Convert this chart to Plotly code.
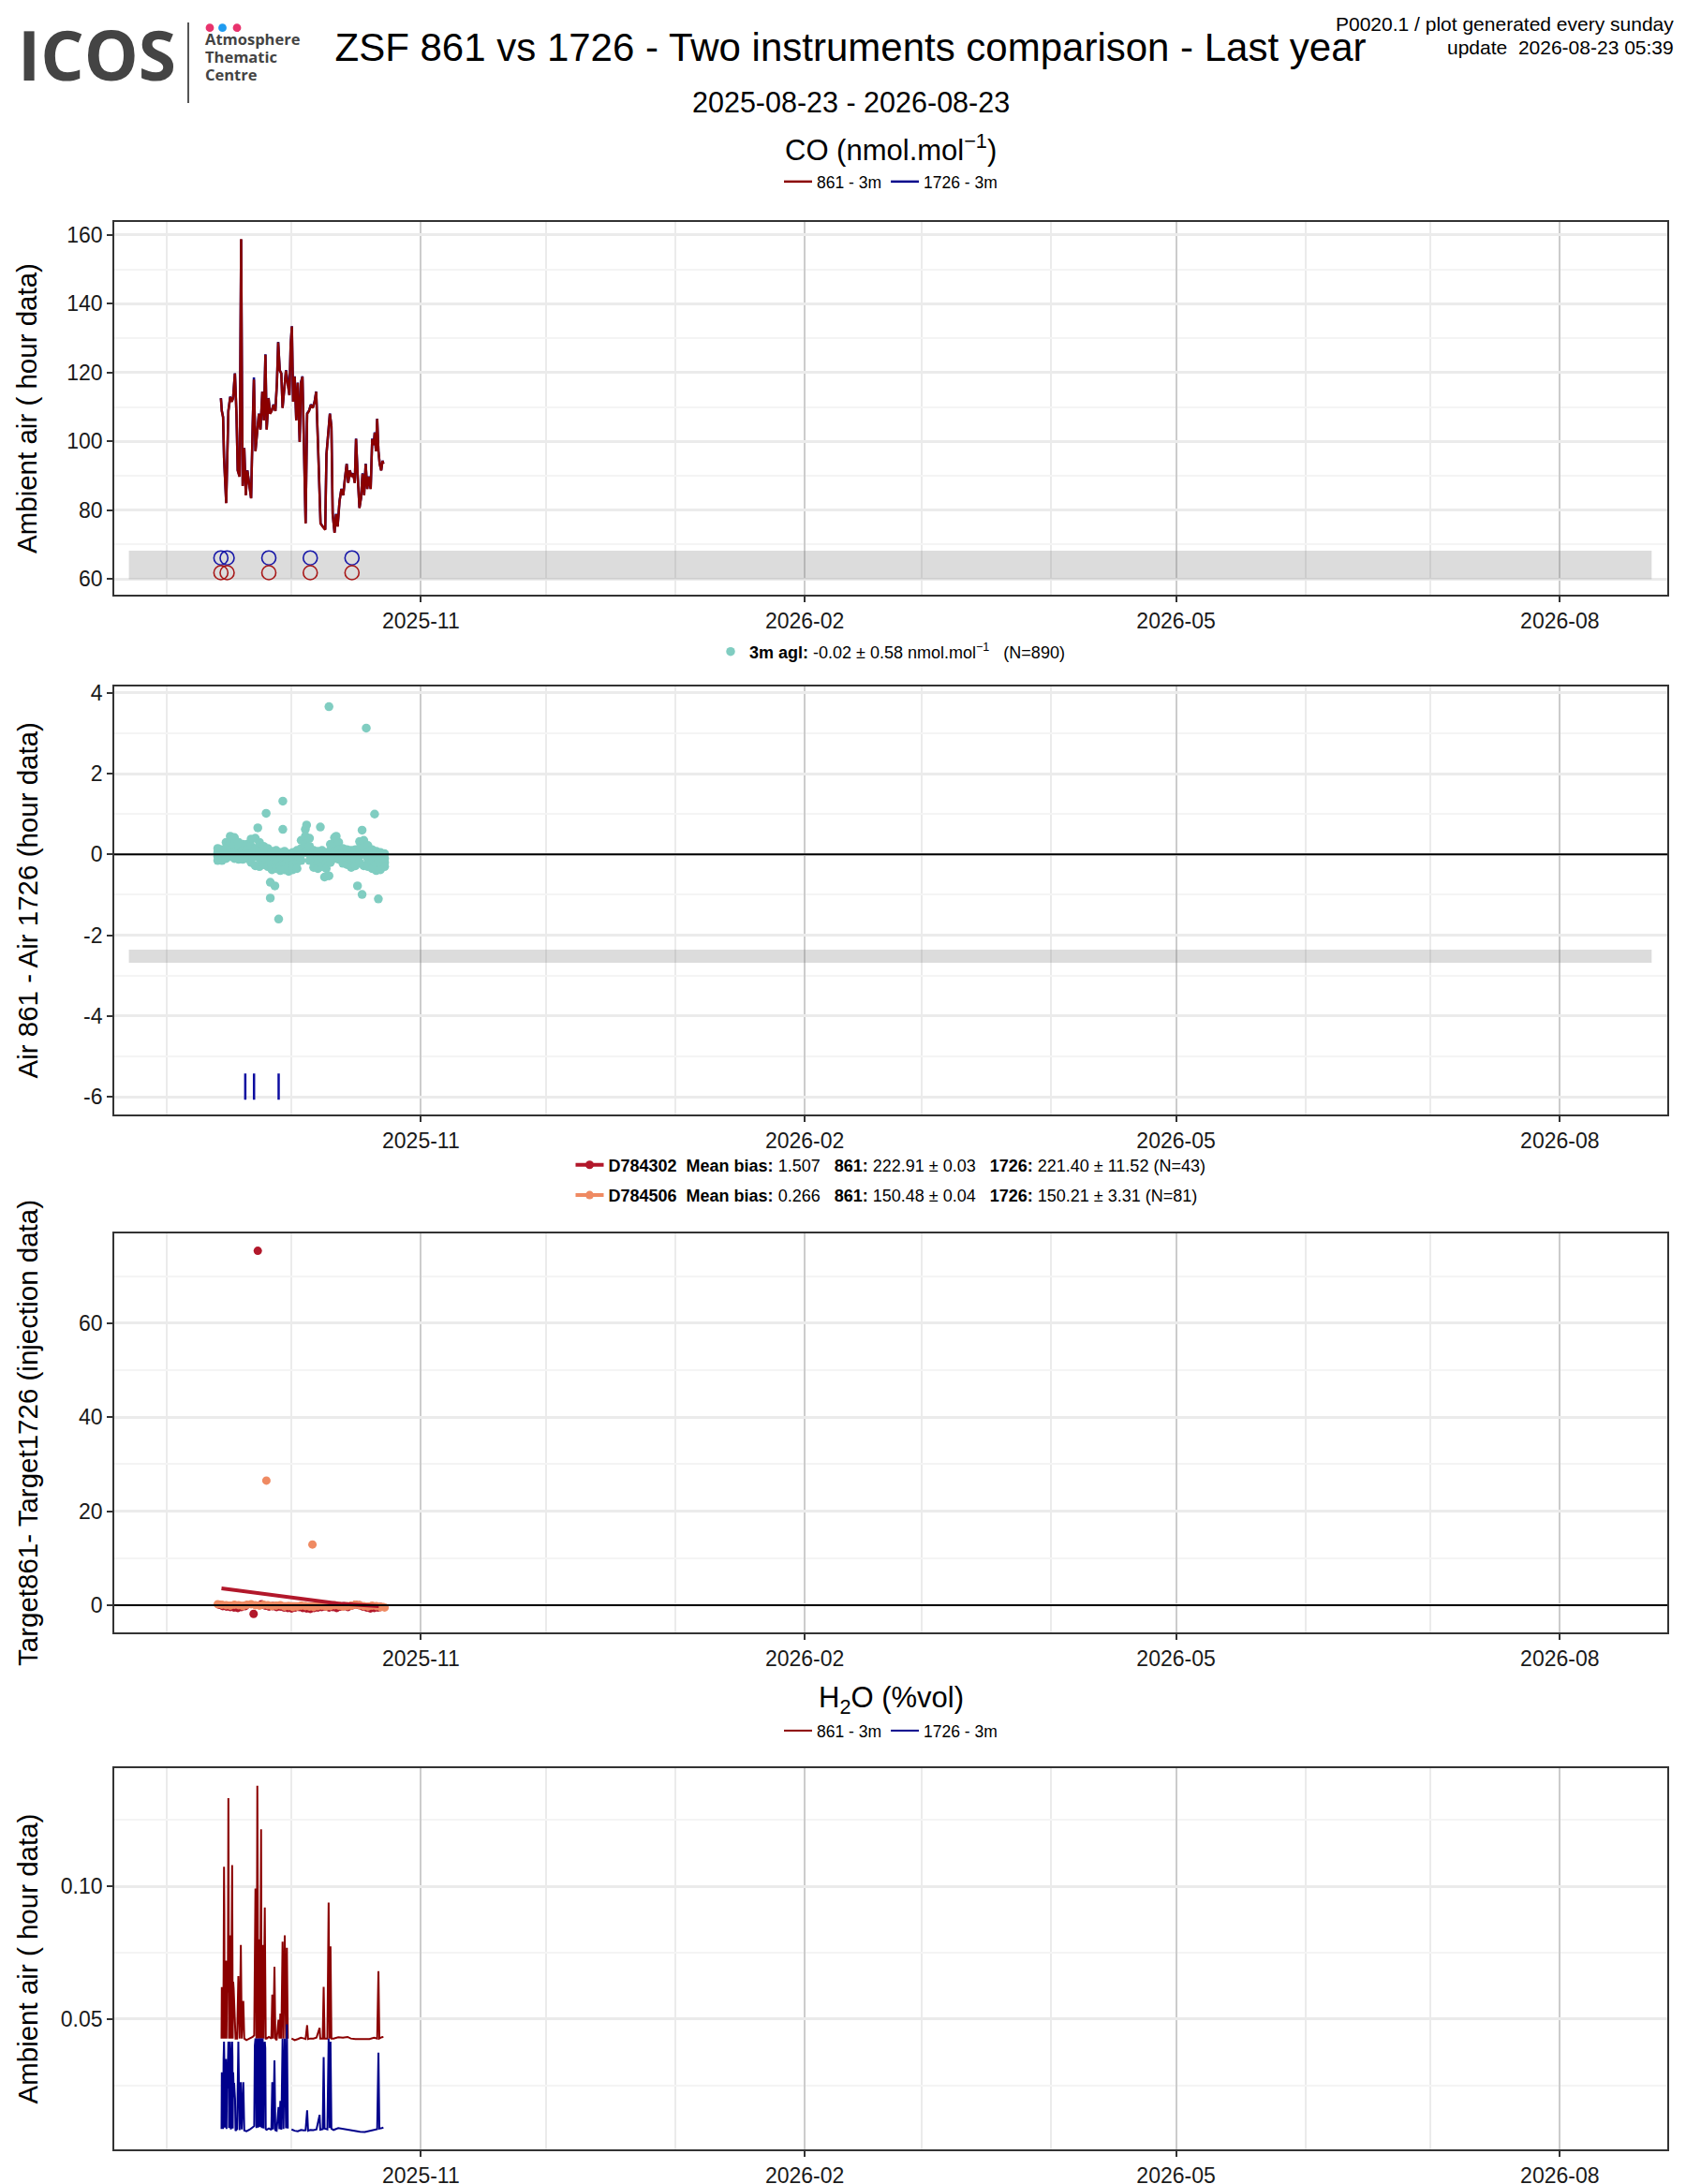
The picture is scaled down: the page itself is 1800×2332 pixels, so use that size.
import pandas as pd
import plotly.graph_objects as go

# ---------------------------------------------------------------------------
# values
# time is given as days counted from 2025-09-01 00:00
# ---------------------------------------------------------------------------
day0 = pd.Timestamp("2025-09-01")
period = ["2025-08-23", "2026-08-23"]
x_range = ["2025-08-19 12:00", "2026-08-26 18:00"]

# CO ambient air, hour data (nmol/mol)
co_day = [13.06, 13.28, 13.58, 13.81, 14.33, 14.55, 14.85, 15.30, 15.67, 15.97,
          16.42, 16.79, 17.09, 17.54, 17.91, 18.13, 18.28, 18.66, 19.03, 19.40,
          19.78, 20.30, 20.67, 20.97, 21.34, 21.79, 22.16, 22.54, 22.99, 23.36,
          23.73, 24.03, 24.48, 24.85, 25.22, 25.67, 26.12, 26.49, 26.79, 27.16,
          27.54, 27.84, 28.21, 28.66, 29.03, 29.48, 29.78, 30.07, 30.37, 30.75,
          31.12, 31.49, 31.94, 32.24, 32.61, 32.99, 33.36, 33.73, 34.18, 34.63,
          35.07, 35.52, 35.90, 36.34, 36.72, 36.94, 37.46, 38.06, 38.36, 38.81,
          39.18, 39.55, 39.85, 40.30, 40.67, 41.04, 41.49, 41.94, 42.39, 42.76,
          43.21, 43.58, 43.96, 44.40, 44.78, 45.15, 45.45, 45.82, 46.27, 46.64,
          47.01, 47.39, 47.76, 48.13, 48.51, 48.96, 49.33, 49.70, 49.93, 50.22,
          50.52, 50.82, 51.12, 51.49, 51.79, 52.01]
co_861 = [112.5, 108.8, 107.0, 95.2, 82.0, 92.5, 108.8, 112.9, 111.5, 112.5,
          119.7, 108.0, 91.5, 89.7, 158.8, 111.5, 87.0, 98.0, 84.3, 91.5,
          87.9, 83.4, 104.3, 118.0, 97.1, 104.3, 108.0, 103.4, 114.4, 106.1,
          125.2, 103.4, 112.5, 108.0, 108.8, 110.6, 108.8, 117.0, 128.8, 120.6,
          119.7, 109.7, 115.2, 120.6, 117.0, 113.4, 127.9, 133.4, 111.5, 118.8,
          106.1, 117.0, 99.8, 117.0, 118.8, 91.5, 76.1, 108.0, 108.8, 110.6,
          109.7, 111.5, 114.4, 98.9, 86.1, 76.1, 75.2, 74.3, 96.2, 104.3,
          108.0, 104.3, 78.8, 73.4, 78.8, 75.2, 82.5, 86.1, 84.3, 88.8,
          93.4, 87.9, 91.5, 89.7, 90.6, 87.9, 100.7, 90.6, 80.6, 83.4,
          90.6, 84.3, 93.4, 86.1, 89.7, 86.1, 100.7, 98.9, 102.5, 97.1,
          106.5, 97.1, 93.4, 91.5, 94.3, 93.4]
co_1726 = [112.6, 108.9, 107.1, 95.3, 82.1, 92.6, 108.9, 113.0, 111.6, 112.6,
           119.8, 108.1, 91.6, 89.8, 158.7, 111.6, 87.1, 98.1, 84.4, 91.6,
           88.0, 83.5, 104.4, 118.6, 97.2, 104.4, 108.1, 103.5, 114.5, 106.2,
           125.3, 103.5, 112.6, 108.1, 108.9, 110.7, 108.9, 117.1, 128.9, 120.7,
           119.8, 109.8, 115.3, 120.7, 117.9, 113.5, 128.0, 133.5, 111.6, 118.9,
           106.2, 117.1, 99.9, 117.1, 118.9, 91.6, 76.2, 108.1, 108.9, 110.7,
           109.8, 111.6, 114.5, 99.0, 86.2, 76.2, 75.3, 74.4, 96.3, 104.4,
           108.1, 104.4, 78.9, 73.5, 78.9, 75.3, 82.6, 86.2, 84.4, 88.9,
           93.5, 88.0, 91.6, 89.8, 90.7, 88.0, 100.8, 90.7, 80.7, 83.5,
           90.7, 84.4, 93.5, 86.2, 89.8, 86.2, 100.8, 99.0, 102.6, 97.2,
           106.6, 97.2, 93.5, 91.6, 94.4, 93.5]
co_band = [59.9, 68.2]
co_flag_day = [13.06, 14.55, 24.55, 34.48, 44.48]
co_flag_861 = 61.8
co_flag_1726 = 66.1
co_ticks = [60, 80, 100, 120, 140, 160]

# Air 861 - Air 1726 (hour data): readings per day, then isolated points
diff_day = [12.3, 13.3, 14.3, 15.3, 16.3, 17.3, 18.3, 19.3, 20.3, 21.3,
            22.3, 23.3, 24.3, 25.3, 26.3, 27.3, 28.3, 29.3, 30.3, 31.3,
            32.3, 33.3, 34.3, 35.3, 36.3, 37.3, 38.3, 39.3, 40.3, 41.3,
            42.3, 43.3, 44.3, 45.3, 46.3, 47.3, 48.3, 49.3, 50.3, 51.3, 52.3]
diff_vals = [[0.15, 0.05, -0.05, -0.15], [0.12, 0.02, -0.08, -0.15],
             [0.30, 0.15, 0.00, -0.10], [0.45, 0.30, 0.10, -0.05],
             [0.42, 0.25, 0.05, -0.10], [0.30, 0.15, 0.00, -0.12],
             [0.25, 0.10, -0.02, -0.12], [0.25, 0.12, 0.00, -0.10],
             [0.38, 0.20, 0.00, -0.20], [0.40, 0.15, -0.05, -0.28],
             [0.30, 0.10, -0.10, -0.30], [0.20, 0.02, -0.12, -0.25],
             [0.15, -0.05, -0.18, -0.30], [0.08, -0.10, -0.25, -0.38],
             [0.10, -0.08, -0.22, -0.35], [0.05, -0.12, -0.28, -0.40],
             [0.08, -0.10, -0.25, -0.38], [0.02, -0.15, -0.28, -0.42],
             [0.05, -0.12, -0.25, -0.38], [0.10, -0.05, -0.20, -0.35],
             [0.35, 0.15, 0.00, -0.15], [0.62, 0.45, 0.25, 0.05],
             [0.40, 0.20, 0.00, -0.15], [0.10, -0.05, -0.20, -0.32],
             [0.08, -0.08, -0.22, -0.35], [0.10, -0.05, -0.18, -0.30],
             [0.05, -0.10, -0.22, -0.35], [0.25, 0.10, -0.05, -0.20],
             [0.42, 0.25, 0.08, -0.10], [0.30, 0.12, 0.00, -0.12],
             [0.15, 0.02, -0.10, -0.22], [0.12, 0.00, -0.12, -0.25],
             [0.10, -0.05, -0.18, -0.32], [0.12, -0.02, -0.15, -0.28],
             [0.32, 0.15, -0.02, -0.20], [0.35, 0.18, 0.00, -0.28],
             [0.22, 0.05, -0.12, -0.30], [0.12, -0.05, -0.20, -0.35],
             [0.08, -0.08, -0.25, -0.40], [0.05, -0.10, -0.22, -0.38],
             [0.02, -0.10, -0.20, -0.30]]
diff_out_day = [38.96, 47.9, 27.9, 23.9, 21.9, 27.9, 33.6, 36.9, 49.9, 46.9,
                40.7, 24.9, 26.0, 24.9, 26.9, 37.9, 38.96, 45.8, 46.9, 50.8]
diff_out_val = [3.66, 3.13, 1.32, 1.02, 0.66, 0.62, 0.73, 0.68, 1.0, 0.6,
                0.45, -0.69, -0.78, -1.08, -1.6, -0.56, -0.53, -0.78, -0.99, -1.1]
diff_band = [-2.68, -2.36]
diff_flag_day = [18.9, 21.0, 26.9]
diff_flag_val = -5.75
diff_stats = {"mean": -0.02, "sd": 0.58, "n": 890}
diff_ticks = [-6, -4, -2, 0, 2, 4]

# Target861 - Target1726 (injection data)
t302_day = [12.6, 13.5, 14.4, 15.3, 16.2, 17.1, 18.0, 18.9, 20.9, 21.9,
            22.8, 23.7, 24.6, 25.5, 26.4, 27.3, 28.2, 29.1, 30.0, 30.9,
            31.8, 32.7, 33.6, 34.5, 35.4, 36.3, 37.2, 38.1, 39.0, 39.9,
            40.8, 41.7, 42.6, 43.5, 44.4, 45.3, 46.2, 47.1, 48.0, 48.9,
            49.8, 50.7, 51.3]
t302_val = [0.1, -0.2, -0.3, -0.4, -0.5, -0.6, -0.4, -0.2, -1.86, 75.4,
            0.2, -0.1, -0.3, -0.2, -0.4, -0.3, -0.5, -0.6, -0.7, -0.5,
            -0.4, -0.6, -0.7, -0.8, -0.6, -0.5, -0.4, -0.3, -0.5, -0.4,
            -0.6, -0.3, -0.2, -0.4, -0.1, 0.1, 0.0, -0.3, -0.5, -0.7,
            -0.6, -0.5, -0.4]
t506_day = [12.3, 13.3, 14.3, 15.3, 16.3, 17.3, 18.3, 19.3, 20.3, 21.3,
            22.3, 23.3, 23.96, 24.3, 25.3, 26.3, 27.3, 28.3, 29.3, 30.3,
            31.3, 32.3, 33.3, 34.3, 35.0, 35.3, 36.3, 37.3, 38.3, 39.3,
            40.3, 41.3, 42.3, 43.3, 44.3, 45.3, 46.3, 47.3, 48.3, 49.3,
            50.3, 51.3, 52.3]
t506_val = [0.2, 0.1, 0.0, -0.1, 0.1, 0.0, -0.2, 0.1, 0.2, 0.0,
            -0.1, 0.1, 26.5, 0.0, -0.2, -0.1, 0.0, -0.3, -0.2, -0.4,
            -0.3, -0.1, -0.2, -0.3, 12.9, -0.4, -0.2, -0.1, -0.3, -0.2,
            0.0, -0.1, -0.3, -0.2, -0.1, 0.1, 0.0, -0.2, -0.3, -0.1,
            -0.2, -0.4, -0.5]
trend302_day = [13.2, 41.2, 50.9]
trend302_val = [3.58, 0.33, -0.2]
trend506_day = [12.3, 52.3]
trend506_val = [0.35, 0.1]
cyl_names = ["D784302", "D784506"]
cyl_bias = [1.507, 0.266]
cyl_861 = [(222.91, 0.03), (150.48, 0.04)]
cyl_1726 = [(221.40, 11.52), (150.21, 3.31)]
cyl_n = [43, 81]
target_ticks = [0, 20, 40, 60]

# H2O ambient air, hour data (%vol); None marks the data gap
h2o_day = [13.21, 13.28, 13.36, 13.47, 13.58, 13.70, 13.81, 13.88, 13.96, 14.07,
           14.18, 14.29, 14.40, 14.51, 14.63, 14.74, 14.85, 14.93, 15.00, 15.11,
           15.22, 15.33, 15.45, 15.56, 15.66, 15.75, 15.83, 15.90, 16.01, 16.12,
           16.23, 16.34, 16.45, 16.57, 16.94, 17.24, 17.54, 17.84, 18.06, 18.43,
           18.66, 19.18, 19.93, 20.67, 21.04, 21.19, 21.34, 21.45, 21.57, 21.68,
           21.79, 21.90, 22.01, 22.16, 22.31, 22.38, 22.46, 22.57, 22.69, 22.77,
           22.84, 22.95, 23.06, 23.17, 23.28, 23.43, 23.58, 23.70, 23.81,
           24.03, 24.55, 25.15, 25.37, 25.60, 25.90, 26.12, 26.42, 26.87, 27.09,
           27.31, 27.54, 27.84, 28.06, 28.36, 28.66, 28.88, 29.10, 29.55, 30.00,
           30.75, 31.49, 32.24, 32.99, 33.36, 33.73, 33.96, 34.48, 35.22, 35.97,
           36.72, 36.87, 37.46, 37.69, 37.91, 38.58, 38.88, 39.10, 39.33, 39.55,
           40.07, 41.19, 42.31, 43.43, 44.18, 45.30, 46.42, 47.54, 48.66, 49.78,
           50.52, 50.82, 51.04, 51.64, 52.01]
h2o_861 = [0.0427, 0.0620, 0.0509, 0.0580, 0.0427, 0.0660, 0.1073, 0.0900, 0.0427, 0.0640,
           0.0615, 0.0720, 0.0427, 0.0600, 0.0615, 0.0700, 0.1331, 0.0880, 0.0427, 0.0660,
           0.0815, 0.0700, 0.0427, 0.0620, 0.0900, 0.1079, 0.0750, 0.0427, 0.0640, 0.0615,
           0.0580, 0.0545, 0.0500, 0.0427, 0.0427, 0.0662, 0.0427, 0.0779, 0.0427, 0.0568,
           0.0427, 0.0421, 0.0427, 0.0433, 0.0439, 0.0700, 0.0991, 0.0850, 0.0427, 0.0750,
           0.1378, 0.0950, 0.0427, 0.0800, 0.0732, 0.0680, 0.0427, 0.0900, 0.1214, 0.0720,
           0.0427, 0.0700, 0.0779, 0.0650, 0.0427, 0.0700, 0.0920, 0.0660, 0.0427,
           0.0427, 0.0433, 0.0427, 0.0592, 0.0427, 0.0697, 0.0427, 0.0421, 0.0498, 0.0427,
           0.0521, 0.0427, 0.0791, 0.0427, 0.0815, 0.0427, 0.0768, 0.0427, None, 0.0427,
           0.0421, 0.0425, 0.0430, 0.0427, 0.0425, 0.0477, 0.0425, 0.0427, 0.0427, 0.0430,
           0.0467, 0.0427, 0.0427, 0.0621, 0.0427, 0.0427, 0.0938, 0.0427, 0.0774, 0.0427,
           0.0427, 0.0432, 0.0430, 0.0433, 0.0427, 0.0425, 0.0425, 0.0423, 0.0425, 0.0430,
           0.0427, 0.0680, 0.0427, 0.0432, 0.0433]
h2o_1726 = [0.0087, 0.0300, 0.0187, 0.0280, 0.0087, 0.0350, 0.0415, 0.0350, 0.0092, 0.0300,
            0.0310, 0.0350, 0.0087, 0.0270, 0.0239, 0.0330, 0.0415, 0.0400, 0.0090, 0.0300,
            0.0415, 0.0350, 0.0085, 0.0280, 0.0400, 0.0415, 0.0360, 0.0088, 0.0300, 0.0239,
            0.0260, 0.0228, 0.0200, 0.0080, 0.0086, 0.0415, 0.0082, 0.0263, 0.0085, 0.0263,
            0.0081, 0.0078, 0.0084, 0.0093, 0.0098, 0.0400, 0.0427, 0.0420, 0.0090, 0.0410,
            0.0427, 0.0420, 0.0092, 0.0410, 0.0427, 0.0400, 0.0095, 0.0420, 0.0427, 0.0410,
            0.0090, 0.0400, 0.0427, 0.0380, 0.0088, 0.0400, 0.0415, 0.0390, 0.0086,
            0.0084, 0.0089, 0.0083, 0.0263, 0.0085, 0.0345, 0.0082, 0.0080, 0.0169, 0.0086,
            0.0192, 0.0084, 0.0427, 0.0087, 0.0427, 0.0089, 0.0480, 0.0088, None, 0.0085,
            0.0080, 0.0078, 0.0083, 0.0081, 0.0082, 0.0157, 0.0080, 0.0083, 0.0082, 0.0085,
            0.0140, 0.0084, 0.0086, 0.0357, 0.0088, 0.0085, 0.0427, 0.0090, 0.0415, 0.0088,
            0.0083, 0.0090, 0.0087, 0.0085, 0.0081, 0.0078, 0.0076, 0.0075, 0.0079, 0.0083,
            0.0086, 0.0374, 0.0088, 0.0090, 0.0092]
h2o_ticks = [0.05, 0.10]

# ---------------------------------------------------------------------------
W, H = 1800, 2332
ML, MR = 114, 28
PW = W - ML - MR

C861, C1726 = "#8B0000", "#00008B"
MINT, C302, C506 = "#80CDC1", "#B2182B", "#EF8A62"
FLAG861, FLAG1726 = "#A81818", "#1818A8"
BAND = "rgba(128,128,128,0.28)"
FONT = "Liberation Sans, Arial, Helvetica, sans-serif"


def fx(px):
    return (px - ML) / PW


def fy(py):
    return 1 - py / H


def times(days):
    return [day0 + pd.Timedelta(days=d) for d in days]


# panel top / bottom in pixels
panel_px = [(229, 627), (725, 1182), (1309, 1735), (1880, 2287)]

fig = go.Figure()

# --- CO ---
fig.add_trace(go.Scatter(x=times(co_day), y=co_1726, mode="lines", name="1726 - 3m",
                         line=dict(color=C1726, width=2.5), legend="legend", legendrank=2,
                         xaxis="x", yaxis="y"))
fig.add_trace(go.Scatter(x=times(co_day), y=co_861, mode="lines", name="861 - 3m",
                         line=dict(color=C861, width=2.5), legend="legend", legendrank=1,
                         xaxis="x", yaxis="y"))
fig.add_trace(go.Scatter(x=times(co_flag_day), y=[co_flag_1726] * len(co_flag_day), mode="markers",
                         marker=dict(symbol="circle-open", size=15, color=FLAG1726,
                                     line=dict(color=FLAG1726, width=1.6)),
                         showlegend=False, xaxis="x", yaxis="y"))
fig.add_trace(go.Scatter(x=times(co_flag_day), y=[co_flag_861] * len(co_flag_day), mode="markers",
                         marker=dict(symbol="circle-open", size=15, color=FLAG861,
                                     line=dict(color=FLAG861, width=1.6)),
                         showlegend=False, xaxis="x", yaxis="y"))

# --- Air 861 - Air 1726 ---
diff_x, diff_y = [], []
for d, vals in zip(diff_day, diff_vals):
    for v in vals:
        diff_x.append(d)
        diff_y.append(v)
diff_x += diff_out_day
diff_y += diff_out_val
diff_name = ("<b>3m agl:</b> {:.2f} ± {:.2f} nmol.mol<sup>−1</sup>\u00a0\u00a0\u00a0(N={})"
             .format(diff_stats["mean"], diff_stats["sd"], diff_stats["n"]))
fig.add_trace(go.Scatter(x=times(diff_x), y=diff_y, mode="markers", name=diff_name,
                         marker=dict(color=MINT, size=9.5), legend="legend2",
                         xaxis="x2", yaxis="y2"))
fig.add_trace(go.Scatter(x=times(diff_flag_day), y=[diff_flag_val] * len(diff_flag_day), mode="markers",
                         marker=dict(symbol="line-ns", size=20, color="#0C0CA0",
                                     line=dict(color="#0C0CA0", width=2.5)),
                         showlegend=False, xaxis="x2", yaxis="y2"))

# --- targets ---
cyl_text = []
for name, bias, a, b, n in zip(cyl_names, cyl_bias, cyl_861, cyl_1726, cyl_n):
    cyl_text.append("<b>{}</b>\u00a0\u00a0<b>Mean bias:</b> {:.3f}\u00a0\u00a0\u00a0<b>861:</b> {:.2f} ± {:.2f}"
                    "\u00a0\u00a0\u00a0<b>1726:</b> {:.2f} ± {:.2f} (N={})".format(name, bias, a[0], a[1], b[0], b[1], n))

fig.add_trace(go.Scatter(x=times(trend506_day), y=trend506_val, mode="lines+markers", name=cyl_text[1],
                         line=dict(color=C506, width=4), marker=dict(color=C506, size=9),
                         selectedpoints=[], unselected=dict(marker=dict(opacity=0)),
                         legend="legend3", legendrank=2, legendgroup="g506", xaxis="x3", yaxis="y3"))
fig.add_trace(go.Scatter(x=times(t302_day), y=t302_val, mode="markers", marker=dict(color=C302, size=9),
                         showlegend=False, xaxis="x3", yaxis="y3"))
fig.add_trace(go.Scatter(x=times(t506_day), y=t506_val, mode="markers", marker=dict(color=C506, size=9),
                         showlegend=False, xaxis="x3", yaxis="y3"))
fig.add_trace(go.Scatter(x=times(trend302_day), y=trend302_val, mode="lines+markers", name=cyl_text[0],
                         line=dict(color=C302, width=4), marker=dict(color=C302, size=9),
                         selectedpoints=[], unselected=dict(marker=dict(opacity=0)),
                         legend="legend3", legendrank=1, legendgroup="g302", xaxis="x3", yaxis="y3"))

# --- H2O ---
fig.add_trace(go.Scatter(x=times(h2o_day), y=h2o_861, mode="lines", name="861 - 3m",
                         line=dict(color=C861, width=2), legend="legend4", legendrank=1,
                         xaxis="x4", yaxis="y4"))
fig.add_trace(go.Scatter(x=times(h2o_day), y=h2o_1726, mode="lines", name="1726 - 3m",
                         line=dict(color=C1726, width=2), legend="legend4", legendrank=2,
                         xaxis="x4", yaxis="y4"))

# --- axes ---
xbase = dict(type="date", range=x_range, tickformat="%Y-%m", dtick="M3", tick0="2025-11-01",
             ticks="outside", ticklen=6, tickwidth=1.8, tickcolor="#333333",
             showline=True, mirror=True, linecolor="#333333", linewidth=1.8,
             showgrid=True, gridcolor="#CCCCCC", gridwidth=2, zeroline=False,
             minor=dict(dtick="M1", tick0="2025-09-01", showgrid=True, gridcolor="#EBEBEB", gridwidth=1.5),
             tickfont=dict(size=23, color="#1a1a1a"), automargin=False, domain=[0, 1])
ybase = dict(ticks="outside", ticklen=6, tickwidth=1.8, tickcolor="#333333",
             showline=True, mirror=True, linecolor="#333333", linewidth=1.8,
             showgrid=True, gridcolor="#EBEBEB", gridwidth=2.5, zeroline=False,
             tickfont=dict(size=23, color="#1a1a1a"), automargin=False, tickmode="array")

y_setup = [
    (co_ticks, [str(v) for v in co_ticks], [55.4, 163.8], 50, 20),
    (diff_ticks, [str(v) for v in diff_ticks], [-6.44, 4.16], -5, 2),
    (target_ticks, [str(v) for v in target_ticks], [-5.8, 79.1], 10, 20),
    (h2o_ticks, ["{:.2f}".format(v) for v in h2o_ticks], [0.001, 0.1444], 0.025, 0.05),
]
axes = {}
for i, ((top, bottom), (tv, tt, rng, m0, md)) in enumerate(zip(panel_px, y_setup), start=1):
    sfx = "" if i == 1 else str(i)
    axes["xaxis" + sfx] = dict(xbase, anchor="y" + sfx)
    axes["yaxis" + sfx] = dict(ybase, anchor="x" + sfx, domain=[fy(bottom), fy(top)], range=rng,
                               tickvals=tv, ticktext=tt,
                               minor=dict(tickmode="linear", tick0=m0, dtick=md, showgrid=True,
                                          gridcolor="#F4F4F4", gridwidth=1.5))
fig.update_layout(**axes)

# grey bands and zero lines
fig.add_shape(type="rect", xref="x", yref="y", x0=period[0], x1=period[1], y0=co_band[0], y1=co_band[1],
              fillcolor=BAND, line_width=0, layer="between")
fig.add_shape(type="rect", xref="x2", yref="y2", x0=period[0], x1=period[1], y0=diff_band[0], y1=diff_band[1],
              fillcolor=BAND, line_width=0, layer="between")
for ax in ["2", "3"]:
    fig.add_shape(type="line", xref="x" + ax + " domain", yref="y" + ax, x0=0, x1=1, y0=0, y1=0,
                  line=dict(color="black", width=2))

# --- legends ---
leg = dict(x=0.5, xanchor="center", yanchor="middle", bgcolor="rgba(0,0,0,0)", itemwidth=30)
fig.update_layout(
    legend=dict(leg, orientation="h", y=fy(186), font=dict(size=17.5, color="black", family=FONT)),
    legend2=dict(leg, orientation="h", y=fy(688), font=dict(size=18, color="black", family=FONT)),
    legend3=dict(leg, orientation="v", y=fy(1252), tracegroupgap=6,
                 font=dict(size=18, color="black", family=FONT)),
    legend4=dict(leg, orientation="h", y=fy(1840), font=dict(size=17.5, color="black", family=FONT)),
)

# --- texts ---
ann = []
ann.append(dict(text="2025-08-23 - 2026-08-23", x=fx(900), y=fy(101.5), font=dict(size=30.5)))
ann.append(dict(text="P0020.1 / plot generated every sunday", x=fx(1781), y=fy(18), xanchor="right",
                font=dict(size=21)))
ann.append(dict(text="update\u00a0\u00a02026-08-23 05:39", x=fx(1781), y=fy(42), xanchor="right",
                font=dict(size=21)))
ann.append(dict(text="CO (nmol.mol<sup>−1</sup>)", x=0.5, y=fy(150), font=dict(size=31)))
ann.append(dict(text="H<sub>2</sub>O (%vol)", x=0.5, y=fy(1807), font=dict(size=31)))
y_titles = ["Ambient air ( hour data)", "Air 861 - Air 1726 (hour data)",
            "Target861- Target1726 (injection data)", "Ambient air ( hour data)"]
for (top, bottom), txt in zip(panel_px, y_titles):
    ann.append(dict(text=txt, x=fx(21), y=fy((top + bottom) / 2), textangle=-90, font=dict(size=29.5)))
# ICOS logo
ann.append(dict(text="<b>ICOS</b>", x=fx(95), y=fy(50), font=dict(size=73, family="Open Sans", color="#444444")))
for txt, yy in zip(["Atmosphere", "Thematic", "Centre"], [33, 53, 71.5]):
    ann.append(dict(text="<b>" + txt + "</b>", x=fx(209), y=fy(yy), xanchor="left",
                    font=dict(size=16.5, family="Open Sans", color="#444444")))
for a in ann:
    a.setdefault("xref", "paper")
    a.setdefault("yref", "paper")
    a.setdefault("xanchor", "center")
    a.setdefault("yanchor", "middle")
    a.setdefault("showarrow", False)
    a["font"].setdefault("family", FONT)
    a["font"].setdefault("color", "black")
fig.update_layout(annotations=ann)

fig.add_shape(type="line", xref="paper", yref="paper", x0=fx(193), x1=fx(193), y0=fy(16), y1=fy(102),
              line=dict(color="#555555", width=2))
for cx, col in zip([216, 229.5, 245], ["#E8336D", "#1E9BF0", "#E8336D"]):
    fig.add_shape(type="circle", xref="paper", yref="paper", x0=fx(cx - 4.4), x1=fx(cx + 4.4),
                  y0=fy(21.7 + 4.4), y1=fy(21.7 - 4.4), fillcolor=col, line_width=0)

fig.update_layout(
    width=W, height=H, autosize=False,
    margin=dict(l=ML, r=MR, t=0, b=0, autoexpand=False),
    paper_bgcolor="white", plot_bgcolor="white",
    font=dict(family=FONT, size=18, color="black"),
    title=dict(text="ZSF 861 vs 1726 - Two instruments comparison - Last year", x=0.5, xref="container",
               xanchor="center", y=fy(42), yref="container", yanchor="middle",
               font=dict(size=42, family=FONT, color="black")),
)

fig.write_html("out.html")
